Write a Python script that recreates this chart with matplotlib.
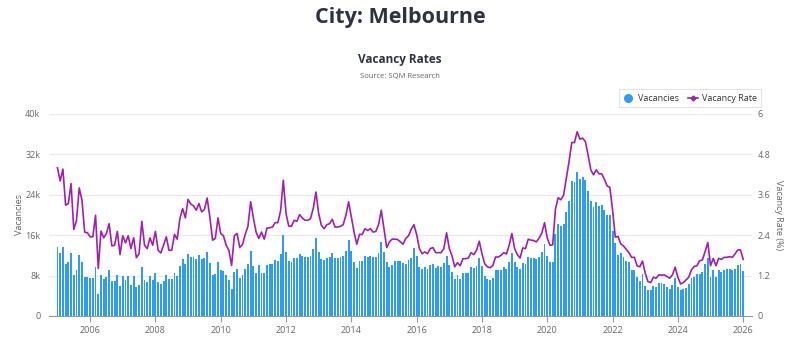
import numpy as np
import pandas as pd
import matplotlib
matplotlib.use("Agg")
import matplotlib.pyplot as plt
from matplotlib.lines import Line2D

plt.rcParams['font.family'] = ['Open Sans', 'DejaVu Sans']

# monthly, Jan 2005 .. Jan 2026
vacancies_k = [
    13.7, 12.5, 13.7, 10.3, 10.6, 12.4, 8.1, 9.0, 12.1, 10.6, 7.8, 7.8,      # 2005
    7.5, 7.5, 9.7, 4.4, 8.2, 7.3, 7.8, 9.0, 6.9, 6.9, 8.2, 6.0,              # 2006
    8.0, 7.2, 7.9, 6.2, 7.9, 5.7, 6.2, 9.6, 7.1, 6.7, 8.0, 7.1,              # 2007
    8.6, 6.7, 6.3, 6.9, 8.2, 7.3, 7.4, 8.6, 7.9, 9.9, 11.2, 10.3,            # 2008
    12.3, 11.7, 11.6, 11.2, 12.0, 11.2, 11.5, 12.7, 10.4, 8.2, 8.4, 10.7,    # 2009
    9.0, 8.8, 8.2, 7.2, 5.4, 8.7, 9.2, 7.5, 8.1, 9.2, 10.2, 12.9,            # 2010
    9.8, 8.6, 10.0, 8.6, 8.6, 10.1, 10.2, 10.2, 11.0, 10.9, 12.3, 16.0,      # 2011
    12.6, 10.9, 10.6, 11.4, 11.4, 12.3, 11.9, 11.6, 11.6, 11.9, 13.3, 15.4,  # 2012
    12.7, 11.2, 11.0, 11.4, 11.7, 12.4, 11.5, 11.5, 11.7, 11.9, 12.9, 15.0,  # 2013
    12.9, 10.7, 9.5, 10.9, 10.9, 11.9, 11.6, 11.9, 11.6, 11.6, 12.5, 14.7,   # 2014
    12.7, 10.6, 9.6, 10.0, 10.8, 10.8, 10.8, 10.5, 10.2, 11.1, 11.5, 13.5,   # 2015
    11.9, 9.6, 9.2, 9.7, 9.2, 10.0, 10.2, 9.5, 9.8, 9.6, 10.5, 11.9,         # 2016
    10.0, 8.7, 7.4, 8.1, 7.4, 8.6, 8.6, 8.6, 9.6, 9.4, 9.8, 11.4,            # 2017
    9.9, 7.9, 7.4, 7.2, 7.5, 9.0, 9.0, 9.1, 9.6, 9.2, 10.7, 12.5,            # 2018
    10.6, 9.7, 9.2, 10.5, 10.3, 11.6, 11.4, 11.5, 11.2, 11.6, 12.6, 14.3,    # 2019
    11.9, 10.7, 10.7, 16.2, 18.2, 17.8, 18.3, 20.6, 22.8, 26.7, 26.5, 28.5,  # 2020
    27.1, 27.5, 26.9, 24.8, 22.8, 21.5, 22.6, 21.8, 21.9, 21.0, 20.0, 20.0,  # 2021
    16.9, 14.4, 12.1, 12.5, 11.6, 10.8, 10.6, 9.0, 9.1, 7.7, 7.0, 8.4,       # 2022
    5.9, 5.1, 5.1, 5.9, 5.8, 6.5, 6.5, 6.3, 5.8, 5.4, 6.1, 7.5,              # 2023
    5.8, 5.1, 5.3, 5.5, 6.3, 7.5, 7.7, 8.3, 8.3, 8.7, 10.3, 11.4,            # 2024
    7.7, 9.0, 7.7, 9.1, 8.7, 9.0, 9.2, 9.2, 9.1, 9.3, 10.0, 10.3,            # 2025
    8.8,                                                                     # 2026
]

vacancy_rate = [
    4.40, 4.01, 4.36, 3.29, 3.34, 3.93, 2.57, 2.84, 3.80, 3.44, 2.49, 2.47,
    2.35, 2.35, 2.99, 1.41, 2.52, 2.32, 2.45, 2.74, 2.08, 2.10, 2.51, 1.82,
    2.38, 2.17, 2.38, 2.00, 2.32, 1.73, 1.85, 2.81, 2.10, 2.00, 2.32, 2.10,
    2.51, 1.95, 1.87, 2.10, 2.35, 1.95, 1.95, 2.42, 2.28, 2.89, 3.19, 2.91,
    3.46, 3.32, 3.27, 3.14, 3.34, 3.09, 3.16, 3.50, 2.94, 2.25, 2.30, 2.91,
    2.45, 2.38, 2.10, 1.95, 1.50, 2.38, 2.45, 2.03, 2.12, 2.42, 2.66, 3.39,
    2.91, 2.49, 2.30, 2.49, 2.28, 2.61, 2.62, 2.64, 2.77, 2.77, 3.12, 4.03,
    3.04, 2.67, 2.66, 2.84, 2.81, 3.01, 2.91, 2.84, 2.84, 2.89, 3.19, 3.68,
    3.04, 2.69, 2.59, 2.71, 2.74, 2.87, 2.64, 2.64, 2.66, 2.71, 2.99, 3.39,
    2.94, 2.49, 2.13, 2.42, 2.42, 2.59, 2.54, 2.59, 2.49, 2.51, 2.71, 3.14,
    2.59, 2.03, 2.20, 2.28, 2.28, 2.27, 2.20, 2.13, 2.30, 2.38, 2.57, 2.71,
    2.42, 2.00, 1.85, 1.90, 1.85, 2.00, 2.03, 1.88, 1.88, 1.88, 2.00, 2.47,
    2.00, 1.78, 1.46, 1.58, 1.49, 1.70, 1.70, 1.72, 1.88, 1.82, 1.95, 2.22,
    1.85, 1.55, 1.46, 1.43, 1.50, 1.75, 1.75, 1.80, 1.88, 1.84, 2.10, 2.45,
    2.00, 1.82, 1.72, 2.02, 2.00, 2.28, 2.25, 2.24, 2.20, 2.31, 2.46, 2.77,
    2.31, 2.10, 2.11, 3.17, 3.51, 3.45, 3.59, 4.09, 4.58, 5.15, 5.15, 5.47,
    5.25, 5.28, 5.18, 4.78, 4.34, 4.19, 4.34, 4.22, 4.22, 4.06, 3.86, 3.82,
    3.15, 2.34, 2.36, 2.14, 2.08, 1.98, 1.88, 1.74, 1.74, 1.49, 1.46, 1.63,
    1.27, 1.02, 0.99, 1.15, 1.12, 1.22, 1.21, 1.22, 1.17, 1.12, 1.22, 1.45,
    1.15, 0.95, 0.99, 1.07, 1.15, 1.37, 1.47, 1.49, 1.64, 1.66, 1.91, 2.18,
    1.49, 1.71, 1.49, 1.71, 1.68, 1.74, 1.74, 1.76, 1.74, 1.84, 1.96, 1.96,
    1.68,
]

months = pd.date_range("2005-01-01", periods=len(vacancies_k), freq="MS")
year_ticks = list(range(2006, 2027, 2))
left_ticks = [0, 8000, 16000, 24000, 32000, 40000]
left_labels = ["0", "8k", "16k", "24k", "32k", "40k"]
right_ticks = [0, 1.2, 2.4, 3.6, 4.8, 6]
right_labels = ["0", "1.2", "2.4", "3.6", "4.8", "6"]

x = months.year + (months.month - 1) / 12
vac = np.array(vacancies_k) * 1000

blue = "#2e9cf5"
purple = "#a11fae"
grey = "#666666"

fig = plt.figure(figsize=(8, 3.57), dpi=100)
ax = fig.add_axes([0.061, 0.115, 0.879, 0.566])
ax2 = ax.twinx()

ax.bar(x, vac, width=0.058, color=blue, zorder=2)
ax2.plot(x, vacancy_rate, color=purple, linewidth=1.2, zorder=3)

ax.set_xlim(2004.735, 2026.27)
ax.set_ylim(0, 40000)
ax2.set_ylim(0, 6)
ax.set_yticks(left_ticks)
ax.set_yticklabels(left_labels)
ax2.set_yticks(right_ticks)
ax2.set_yticklabels(right_labels)
ax.set_xticks(year_ticks)
ax.set_xticklabels([str(y) for y in year_ticks])

ax.grid(axis='y', color="#ebebeb", linewidth=1, zorder=0)
ax.set_axisbelow(True)
for a in (ax, ax2):
    for s in ("top", "right", "left", "bottom"):
        a.spines[s].set_visible(False)
ax.spines["bottom"].set_visible(True)
ax.spines["bottom"].set_color("#999999")
ax.tick_params(axis='x', colors=grey, labelsize=6.5, length=4, width=0.8, pad=3)
ax.tick_params(axis='x', color="#999999")
ax.tick_params(axis='y', colors=grey, labelsize=6.5, length=0, pad=6)
ax2.tick_params(axis='y', colors=grey, labelsize=6.5, length=0, pad=4)

ax.set_ylabel("Vacancies", color=grey, fontsize=6.5, labelpad=1)
ax2.set_ylabel("Vacancy Rate (%)", color=grey, fontsize=6.5, rotation=270, labelpad=9)

fig.text(0.5, 0.952, "City: Melbourne", ha='center', va='center',
         fontsize=15.5, fontweight='bold', color="#2d3340")
fig.text(0.5, 0.832, "Vacancy Rates", ha='center', va='center',
         fontsize=8.5, fontweight='bold', color="#2d3340")
fig.text(0.5, 0.787, "Source: SQM Research", ha='center', va='center',
         fontsize=5.5, color=grey)

handles = [
    Line2D([], [], marker='o', linestyle='none', markersize=5.5,
           markerfacecolor=blue, markeredgecolor=blue),
    Line2D([], [], marker='D', color=purple, linewidth=1.2, markersize=2.5),
]
leg = fig.legend(handles, ["Vacancies", "Vacancy Rate"], loc='center right',
                 bbox_to_anchor=(0.9575, 0.725), ncol=2, fontsize=6.5,
                 frameon=True, fancybox=False, handlelength=1.2,
                 columnspacing=1.0, handletextpad=0.4, borderpad=0.5)
leg.get_frame().set_edgecolor("#dddddd")
leg.get_frame().set_linewidth(0.8)
for t in leg.get_texts():
    t.set_color("#333333")

fig.savefig("out.png", dpi=100)
